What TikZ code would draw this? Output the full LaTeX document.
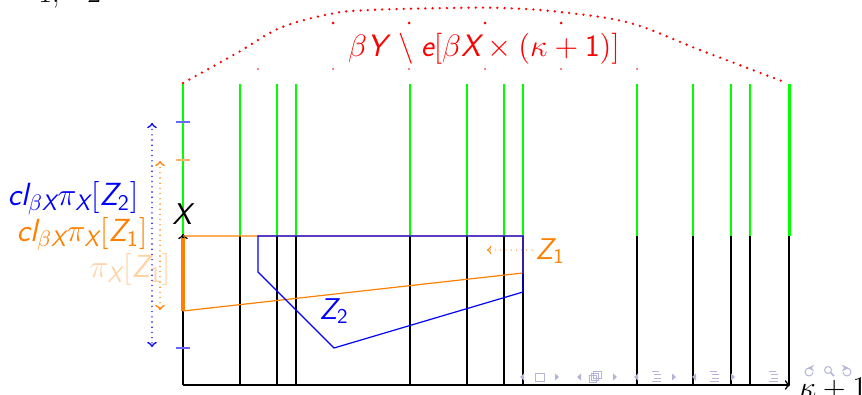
\RequirePackage{fix-cm}
\documentclass[tikz,border=0pt]{standalone}
\usepackage{fontspec}
\DeclareMathAlphabet{\mathsfit}{TU}{lmss}{m}{sl}
\DeclareMathAlphabet{\mathsfup}{TU}{lmss}{m}{n}
\definecolor{navc}{RGB}{180,180,218}
\begin{document}
\begin{tikzpicture}[x=0.5pt,y=-0.5pt,
  lbl/.style={inner sep=0pt, font=\fontsize{15}{18}\selectfont},
  biglbl/.style={inner sep=0pt, font=\fontsize{16}{19}\selectfont},
  gline/.style={green, line width=0.55pt},
  bline/.style={black, line width=0.55pt},
  dotline/.style={dash pattern=on 0pt off 2.6pt, line cap=round, line width=0.8pt},
  tick/.style={line width=1pt},
  navs/.style={navc, line width=0.5pt}]
\useasboundingbox (0,0) rectangle (862,395);

% cut-off text at top
\node[anchor=base west, inner sep=0pt, font=\fontsize{15}{18}\selectfont] (t1) at (38,2.5) {1,};
\node[anchor=base west, inner sep=0pt, font=\fontsize{15}{18}\selectfont] (t2) at (87,2.5) {2};

% red dotted curve
\draw[red, line width=1.3pt, line cap=round, dash pattern=on 0pt off 3.6pt]
  plot[smooth, tension=0.6] coordinates {(183,83) (237,53) (280,28) (330,14) (370,10) (450,8) (503,8) (560,12) (630,23) (700,50) (787,83)};
\foreach \x in {333,409,485,561} \fill[red] (\x,23) circle (1.5);
\foreach \x in {258,333,409,485,561,637} \fill[red] (\x,69) circle (0.9);
\node[inner sep=0pt, font=\fontsize{15.5}{18}\selectfont, red] (lab) at (484,49) {$\beta\mathsfit{Y}\,\setminus\mathsfit{e}[\beta\mathsfit{X}\times(\kappa+\mathsfup{1})]$};

% vertical lines
\foreach \x in {240,277,296,410,467,504,523,637,693,731,750} {
  \coordinate (top\x) at (\x,84);
  \coordinate (mid\x) at (\x,236);
  \coordinate (bot\x) at (\x,385);
  \draw[gline] (top\x) -- (mid\x);
  \draw[bline] (mid\x) -- (bot\x);
}
\coordinate (topR) at (789,84);
\coordinate (midR) at (789,236);
\coordinate (botR) at (789,385);
\draw[green, line width=1.5pt] (topR) -- (midR);
\draw[black, line width=0.7pt] (midR) -- (botR);

% axes
\coordinate (O) at (183,385);
\coordinate (Xtop) at (183,234);
\coordinate (Gtop) at (183,84);
\coordinate (Xend) at (790,385);
\draw[green, line width=1pt] (Gtop) -- (183,236);
\draw[->, line width=0.8pt] (O) -- (Xtop);
\draw[->, line width=0.8pt] (O) -- (Xend);

% Z1 region
\coordinate (a1) at (183,236);
\coordinate (a2) at (523,236);
\coordinate (a3) at (523,273);
\coordinate (a4) at (183,311);
\draw[orange, line width=0.6pt] (a1) -- (a2) -- (a3) -- (a4);
\draw[orange, line width=2pt] (183,238) -- (a4);

% Z2 region
\coordinate (b1) at (258,236);
\coordinate (b2) at (258,272);
\coordinate (b3) at (334,348);
\coordinate (b4) at (523,292);
\coordinate (b5) at (523,236);
\draw[blue, line width=0.6pt] (b1) -- (b2) -- (b3) -- (b4) -- (b5) -- cycle;

% ticks
\draw[tick, blue!60] (176,122) -- (190,122);
\draw[tick, blue!60] (176,348) -- (190,348);
\draw[tick, orange!60] (176,160) -- (190,160);

% dotted double arrows
\coordinate (bu) at (152,123);
\coordinate (bd) at (152,347);
\coordinate (ou) at (160,161);
\coordinate (od) at (160,310);
\draw[blue, dotline, <->] (bu) -- (bd);
\draw[orange, dotline, <->] (ou) -- (od);

% labels
\node[biglbl, anchor=east, blue] (clz2) at (139,198) {$\mathsfit{cl}_{\beta\mathsfit{X}}\pi_{\mathsfit{X}}[\mathsfit{Z}_{\mathsfup{2}}]$};
\node[biglbl, anchor=east, orange] (clz1) at (148,234.5) {$\mathsfit{cl}_{\beta\mathsfit{X}}\pi_{\mathsfit{X}}[\mathsfit{Z}_{\mathsfup{1}}]$};
\node[biglbl, anchor=east, orange, opacity=0.35] (piz1) at (171,270) {$\pi_{\mathsfit{X}}[\mathsfit{Z}_{\mathsfup{1}}]$};
\node[lbl] (Xl) at (182,214) {$\mathsfit{X}$};
\node[lbl, blue] (Z2l) at (334,311) {$\mathsfit{Z}_{\mathsfup{2}}$};
\node[lbl, orange, anchor=west] (Z1l) at (535,251) {$\mathsfit{Z}_{\mathsfup{1}}$};
\coordinate (z1a) at (532,250);
\coordinate (z1b) at (487,250);
\draw[orange, dotline, line width=0.6pt, ->] (z1a) -- (z1b);
\node[lbl, anchor=west] (kap) at (799,389) {$\kappa+1$};

% navigation symbols
\begin{scope}[navs]
\foreach \x in {520,577,634,692} \fill (\x,377) -- (\x+4,373.5) -- (\x+4,380.5) -- cycle;
\foreach \x in {555,613,672,731} \fill (\x+4,377) -- (\x,373.5) -- (\x,380.5) -- cycle;
\draw (535,373) rectangle (544,381);
\draw (589,375) rectangle (596,382);
\draw (591,373) rectangle (598,380);
\draw (593,371) rectangle (601,378);
\foreach \x in {652,710,769} {
  \draw (\x,371) -- (\x+7,371);
  \draw (\x+2,374.5) -- (\x+9,374.5);
  \draw (\x+2,378) -- (\x+9,378);
  \draw (\x,381.5) -- (\x+9,381.5);
}
\draw (813,372) arc (0:270:4);
\draw[->, >=stealth] (809,368) -- (807.5,368);
\draw (828,370) circle (3.5);
\draw[line width=0.8pt] (830.5,372.5) -- (834,376);
\draw (843,372) arc (180:-90:4);
\draw[->, >=stealth] (847,368) -- (848.5,368);
\end{scope}
\end{tikzpicture}
\end{document}
